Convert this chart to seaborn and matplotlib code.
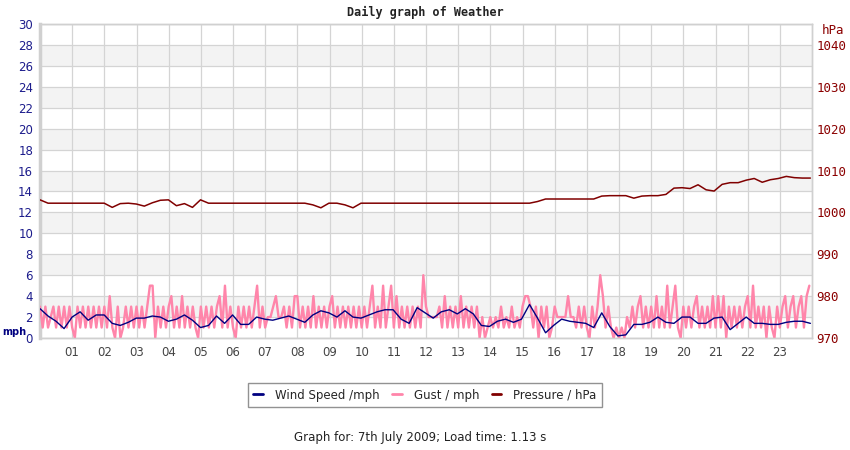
import numpy as np
import pandas as pd
import matplotlib
matplotlib.use("Agg")
import matplotlib.pyplot as plt
import seaborn as sns

# ==========================================
# DATA
# ==========================================
# wind speed, mph, every 15 minutes from 00:00 to 24:00
WIND = [
    2.8, 2.1, 1.6, 0.9,   2.0, 2.5, 1.7, 2.2,   2.2, 1.4, 1.2, 1.5,
    1.9, 1.9, 2.1, 2.0,   1.6, 1.8, 2.2, 1.7,   1.0, 1.2, 2.1, 1.4,
    2.2, 1.3, 1.3, 2.0,   1.8, 1.7, 1.9, 2.1,   1.8, 1.5, 2.2, 2.6,
    2.4, 2.0, 2.6, 2.0,   1.9, 2.2, 2.5, 2.7,   2.7, 1.8, 1.4, 2.9,
    2.4, 1.9, 2.5, 2.7,   2.3, 2.8, 2.3, 1.2,   1.1, 1.6, 1.8, 1.5,
    1.8, 3.2, 1.9, 0.5,   1.2, 1.8, 1.6, 1.5,   1.4, 1.0, 2.4, 1.1,
    0.2, 0.3, 1.3, 1.3,   1.5, 2.0, 1.5, 1.4,   2.0, 2.0, 1.4, 1.4,
    1.9, 2.0, 0.8, 1.4,   2.0, 1.4, 1.4, 1.3,   1.3, 1.5, 1.6, 1.6,
    1.4,
]

# gust, mph, every 5 minutes from 00:00 (one row per hour)
GUST = [
    3, 1, 3, 1, 2, 3, 1, 3, 1, 3, 1, 3,
    1, 0, 3, 1, 3, 1, 3, 1, 3, 1, 3, 1,
    3, 1, 4, 1, 0, 3, 0, 1, 3, 1, 3, 1,
    3, 1, 3, 1, 3, 5, 5, 0, 3, 1, 3, 1,
    3, 4, 1, 3, 1, 4, 1, 3, 1, 3, 1, 0,
    3, 1, 3, 1, 3, 1, 3, 4, 1, 5, 1, 3,
    1, 0, 3, 1, 3, 1, 3, 1, 3, 5, 1, 3,
    1, 2, 2, 3, 4, 2, 2, 3, 1, 3, 1, 4,
    4, 1, 3, 1, 3, 1, 4, 1, 3, 1, 3, 1,
    3, 4, 1, 3, 1, 3, 1, 3, 1, 3, 1, 3,
    1, 3, 1, 3, 5, 1, 3, 1, 5, 1, 3, 5,
    1, 4, 1, 3, 1, 3, 1, 3, 1, 3, 1, 6,
    3, 2, 2, 2, 2, 3, 1, 4, 1, 3, 1, 3,
    1, 4, 1, 3, 1, 3, 1, 3, 0, 2, 0, 1,
    2, 1, 2, 1, 3, 1, 2, 1, 3, 1, 2, 1,
    3, 4, 4, 3, 1, 3, 0, 3, 1, 3, 0, 1,
    3, 2, 2, 2, 2, 4, 2, 2, 1, 3, 1, 3,
    1, 0, 3, 1, 3, 6, 4, 1, 3, 1, 0, 1,
    0, 1, 0, 2, 1, 3, 1, 3, 4, 1, 3, 1,
    3, 1, 4, 1, 3, 1, 5, 1, 3, 5, 1, 0,
    3, 1, 3, 1, 3, 4, 1, 3, 1, 3, 1, 4,
    1, 4, 1, 4, 0, 3, 1, 3, 1, 3, 1, 3,
    4, 1, 5, 1, 3, 1, 3, 0, 3, 1, 0, 3,
    1, 3, 4, 1, 3, 4, 1, 3, 4, 1, 4, 5,
]

# pressure, hPa, every 15 minutes from 00:00 to 24:00
PRESSURE = [
    1003.0, 1002.2, 1002.2, 1002.2,   1002.2, 1002.2, 1002.2, 1002.2,
    1002.2, 1001.2, 1002.1, 1002.2,   1002.0, 1001.5, 1002.3, 1002.9,
    1003.0, 1001.6, 1002.1, 1001.2,   1003.0, 1002.2, 1002.2, 1002.2,
    1002.2, 1002.2, 1002.2, 1002.2,   1002.2, 1002.2, 1002.2, 1002.2,
    1002.2, 1002.2, 1001.8, 1001.1,   1002.2, 1002.2, 1001.8, 1001.1,
    1002.2, 1002.2, 1002.2, 1002.2,   1002.2, 1002.2, 1002.2, 1002.2,
    1002.2, 1002.2, 1002.2, 1002.2,   1002.2, 1002.2, 1002.2, 1002.2,
    1002.2, 1002.2, 1002.2, 1002.2,   1002.2, 1002.2, 1002.6, 1003.2,
    1003.2, 1003.2, 1003.2, 1003.2,   1003.2, 1003.2, 1003.9, 1004.0,
    1004.0, 1004.0, 1003.4, 1003.9,   1004.0, 1004.0, 1004.3, 1005.8,
    1005.9, 1005.7, 1006.6, 1005.4,   1005.1, 1006.7, 1007.1, 1007.1,
    1007.7, 1008.1, 1007.2, 1007.8,   1008.1, 1008.6, 1008.3, 1008.2,
    1008.2,
]

HOUR_LABELS = [f"{h:02d}" for h in range(1, 24)]
MPH_TICKS = list(range(0, 31, 2))
HPA_TICKS = list(range(970, 1041, 10))

NAVY = "#000080"
PINK = "#ff85aa"
DARKRED = "#800000"

# ==========================================
# FRAMES
# ==========================================
wind_df = pd.DataFrame({"hour": np.arange(len(WIND)) * 0.25 * 23.95 / 24, "mph": WIND})
gust_df = pd.DataFrame({"hour": np.arange(len(GUST)) / 12.0, "mph": GUST})
pres_df = pd.DataFrame({"hour": np.arange(len(PRESSURE)) * 0.25 * 23.95 / 24, "hpa": PRESSURE})

# ==========================================
# PLOT
# ==========================================
sns.set_theme(style="white")
plt.rcParams["font.family"] = ["DejaVu Sans"]

fig = plt.figure(figsize=(8.5, 4.5), dpi=100)
ax = fig.add_axes([40 / 850, 1 - 338 / 450, 772 / 850, 314 / 450])
ax2 = ax.twinx()

# alternating bands
for lo in range(2, 30, 4):
    ax.axhspan(lo, lo + 2, color="#f3f3f3", zorder=0, lw=0)

sns.lineplot(data=gust_df, x="hour", y="mph", ax=ax, color=PINK, lw=1.7,
             label="Gust / mph", legend=False, zorder=3)
sns.lineplot(data=wind_df, x="hour", y="mph", ax=ax, color=NAVY, lw=1.0,
             label="Wind Speed /mph", legend=False, zorder=4)
sns.lineplot(data=pres_df, x="hour", y="hpa", ax=ax2, color=DARKRED, lw=1.1,
             label="Pressure / hPa", legend=False)

ax.set_xlim(0, 24)
ax.set_ylim(0, 30)
ax2.set_ylim(970, 1045)

ax.set_xticks(range(1, 24))
ax.set_xticklabels(HOUR_LABELS)
ax.set_yticks(MPH_TICKS)
ax2.set_yticks(HPA_TICKS)
ax.grid(True, color="#d4d4d4", lw=0.9, zorder=1)
ax.set_axisbelow(True)
ax.set_xlabel("")
ax.set_ylabel("")
ax2.set_ylabel("")

ax.tick_params(axis="x", length=0, pad=6, labelsize=8.5, labelcolor="#444444")
ax.tick_params(axis="y", length=0, pad=5, labelsize=8.5, labelcolor="#1c1c8c")
ax2.tick_params(axis="y", length=0, pad=3, labelcolor="#8b0000")
for lab in ax2.get_yticklabels():
    lab.set_family("DejaVu Sans Mono")
    lab.set_fontsize(9)

for a in (ax, ax2):
    for side, sp in a.spines.items():
        sp.set_color("#d0d0d0")
        sp.set_linewidth(1)
ax.spines["left"].set_linewidth(2.5)
ax2.spines["left"].set_visible(False)

fig.text(0.5, 1 - 12 / 450, "Daily graph of Weather", ha="center", va="center",
         family="DejaVu Sans Mono", fontweight="bold", fontsize=8.5, color="#222222")
fig.text(2 / 850, 1 - 332 / 450, "mph", ha="left", va="center",
         fontweight="bold", fontsize=7, color=NAVY)
fig.text(822 / 850, 1 - 30 / 450, "hPa", ha="left", va="center",
         family="DejaVu Sans Mono", fontsize=9, color="#8b0000")

handles = []
for a in (ax, ax2):
    for ln in a.get_lines():
        if ln.get_label() in ("Wind Speed /mph", "Gust / mph", "Pressure / hPa"):
            handles.append(ln)
order = {"Wind Speed /mph": 0, "Gust / mph": 1, "Pressure / hPa": 2}
handles.sort(key=lambda h: order[h.get_label()])
leg = fig.legend(handles=handles, labels=[h.get_label() for h in handles],
                 loc="center", bbox_to_anchor=(425 / 850, 1 - 395 / 450),
                 ncol=3, frameon=True, fancybox=False, fontsize=8.5,
                 handlelength=0.8, handletextpad=1.0, columnspacing=1.1,
                 borderpad=0.45, borderaxespad=0)
leg.get_frame().set_edgecolor("#777777")
leg.get_frame().set_linewidth(1)
for h in leg.legend_handles:
    h.set_linewidth(2)

fig.text(420 / 850, 1 - 438 / 450, "Graph for: 7th July 2009; Load time: 1.13 s",
         ha="center", va="center", fontsize=8.5, color="#222222")

fig.savefig("out.png", dpi=100)
